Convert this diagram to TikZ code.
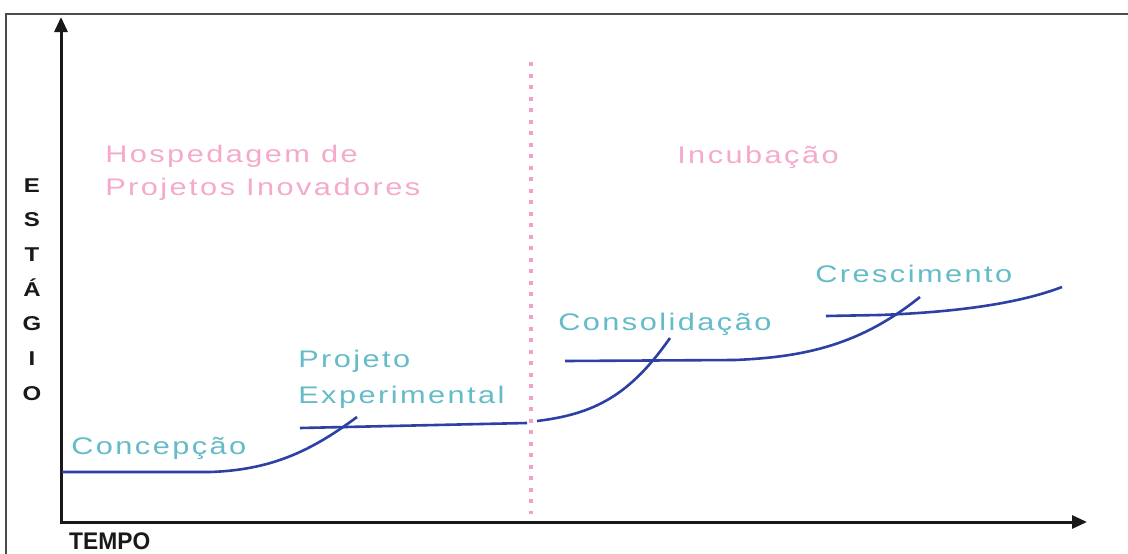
\documentclass[tikz,border=0pt]{standalone}
\usepackage{fontspec}
\setmainfont{Liberation Sans}
\newfontfamily\lblfont[LetterSpace=8]{Liberation Sans}
\usetikzlibrary{arrows.meta}
\definecolor{pinktxt}{RGB}{245,170,205}
\definecolor{tealtxt}{RGB}{100,188,200}
\definecolor{curveblue}{RGB}{45,65,165}
\definecolor{dotpink}{RGB}{245,160,200}
\definecolor{axisgray}{RGB}{25,25,25}
\begin{document}
\begin{tikzpicture}[x=1pt,y=-1pt,
  lbl/.style={font=\lblfont\fontsize{24}{34}\selectfont, inner sep=0pt, anchor=base west, xscale=1.28},
  pinklbl/.style={lbl, text=pinktxt},
  teallbl/.style={lbl, text=tealtxt},
  axislbl/.style={font=\bfseries\fontsize{20}{20}\selectfont, inner sep=0pt, text=axisgray, anchor=base, xscale=1.2},
  curve/.style={draw=curveblue, line width=2.6pt},
  axis/.style={draw=axisgray, line width=3pt, line join=miter, {Triangle[length=15pt,width=13pt]}-{Triangle[length=15pt,width=13pt]}},
  frame/.style={draw=black!70, line width=1.6pt},
  divider/.style={draw=dotpink, line width=4pt, dash pattern=on 4pt off 7.5pt}]
\useasboundingbox (0,0) rectangle (1128,554);
\fill[white] (0,0) rectangle (1128,554);
% frame
\coordinate (fbl) at (6,556);
\coordinate (ftl) at (6,14);
\coordinate (ftr) at (1130,14);
\draw[frame] (fbl) -- (ftl) -- (ftr);
% axes
\coordinate (O) at (61,522);
\coordinate (ytop) at (61,17);
\coordinate (xend) at (1087,522);
\draw[axis] (ytop) -- (O) -- (xend);
% divider
\coordinate (dtop) at (531,62);
\coordinate (dbot) at (531,514);
\draw[divider] (dtop) -- (dbot);
% axis labels
\foreach \l [count=\i] in {E,S,T,Á,G,I,O}
  \node[axislbl] (st\i) at (32,{192+(\i-1)*34.7}) {\l};
\node[font=\bfseries\fontsize{24}{24}\selectfont, text=axisgray, inner sep=0pt, anchor=base west, xscale=0.95] (tempo) at (69,549) {TEMPO};
% phase labels
\node[pinklbl] (hosp1) at (105,162) {Hospedagem de};
\node[pinklbl] (hosp2) at (105,195) {Projetos Inovadores};
\node[pinklbl] (incub) at (677,163) {Incubação};
% stage labels
\node[teallbl] (conc) at (71,454) {Concepção};
\node[teallbl] (proj1) at (298,367) {Projeto};
\node[teallbl] (proj2) at (298,403) {Experimental};
\node[teallbl] (cons) at (558,330) {Consolidação};
\node[teallbl] (cres) at (815,282) {Crescimento};
% curves
\coordinate (c1a) at (62,472);
\coordinate (c1b) at (210,472);
\coordinate (c1c) at (357,417);
\draw[curve] (c1a) -- (c1b) .. controls (270,470) and (310,452) .. (c1c);
\coordinate (c2a) at (300,428);
\coordinate (c2b) at (527,423);
\coordinate (c2c) at (537,421);
\coordinate (c2d) at (670,338);
\draw[curve] (c2a) -- (c2b);
\draw[curve] (c2c) .. controls (595,414) and (630,395) .. (c2d);
\coordinate (c3a) at (565,361);
\coordinate (c3b) at (735,360);
\coordinate (c3c) at (920,297);
\draw[curve] (c3a) -- (c3b) .. controls (805,357) and (860,345) .. (c3c);
\coordinate (c4a) at (826,316);
\coordinate (c4b) at (880,315);
\coordinate (c4c) at (1062,287);
\draw[curve] (c4a) -- (c4b) .. controls (960,312) and (1020,303) .. (c4c);
\end{tikzpicture}
\end{document}
